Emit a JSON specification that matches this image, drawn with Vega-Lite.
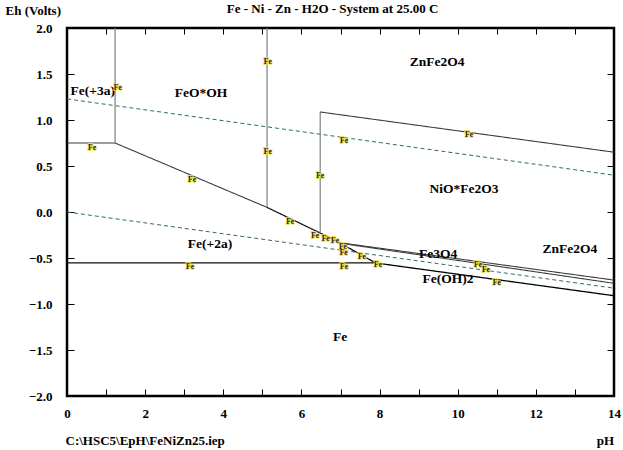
{
  "$schema": "https://vega.github.io/schema/vega-lite/v6.json",
  "width": 547,
  "height": 368,
  "autosize": "none",
  "padding": {"left": 67, "top": 28, "right": 9, "bottom": 54},
  "background": "white",
  "config": {
    "view": {"stroke": "black", "strokeWidth": 2.5},
    "font": "Liberation Serif",
    "axis": {"labelFont": "Liberation Serif", "labelFontWeight": "bold", "labelFontSize": 13, "labelColor": "black", "titleFont": "Liberation Serif", "titleFontWeight": "bold", "titleFontSize": 13, "titleColor": "black", "domain": false, "grid": false, "tickColor": "black", "tickWidth": 1}
  },
  "title": {"text": "Fe - Ni - Zn - H2O - System at 25.00 C", "font": "Liberation Serif", "fontWeight": "bold", "fontSize": 13, "anchor": "middle", "offset": -12, "dx": -8, "color": "black"},
  "datasets": {
    "lines": [
      {"seg": "w1", "style": "water", "ord": 1, "pH": 0, "Eh": 1.229},
      {"seg": "w1", "style": "water", "ord": 2, "pH": 14, "Eh": 0.40},
      {"seg": "w2", "style": "water", "ord": 1, "pH": 0, "Eh": 0.0},
      {"seg": "w2", "style": "water", "ord": 2, "pH": 14, "Eh": -0.828},
      {"seg": "A", "style": "dark", "ord": 1, "pH": 0, "Eh": 0.75},
      {"seg": "A", "style": "dark", "ord": 2, "pH": 1.23, "Eh": 0.75},
      {"seg": "B", "style": "gray", "ord": 1, "pH": 1.23, "Eh": 0.75},
      {"seg": "B", "style": "gray", "ord": 2, "pH": 1.23, "Eh": 2.0},
      {"seg": "C", "style": "dark", "ord": 1, "pH": 1.23, "Eh": 0.75},
      {"seg": "C", "style": "dark", "ord": 2, "pH": 5.12, "Eh": 0.05},
      {"seg": "D", "style": "gray", "ord": 1, "pH": 5.12, "Eh": 0.05},
      {"seg": "D", "style": "gray", "ord": 2, "pH": 5.12, "Eh": 2.0},
      {"seg": "E", "style": "black", "ord": 1, "pH": 5.12, "Eh": 0.05},
      {"seg": "E", "style": "black", "ord": 2, "pH": 7.0, "Eh": -0.335},
      {"seg": "F", "style": "gray", "ord": 1, "pH": 6.48, "Eh": -0.226},
      {"seg": "F", "style": "gray", "ord": 2, "pH": 6.48, "Eh": 1.087},
      {"seg": "G", "style": "dark", "ord": 1, "pH": 6.48, "Eh": 1.087},
      {"seg": "G", "style": "dark", "ord": 2, "pH": 14, "Eh": 0.65},
      {"seg": "I1", "style": "dark", "ord": 1, "pH": 7.0, "Eh": -0.335},
      {"seg": "I1", "style": "dark", "ord": 2, "pH": 14, "Eh": -0.74},
      {"seg": "I2", "style": "dark", "ord": 1, "pH": 7.0, "Eh": -0.34},
      {"seg": "I2", "style": "dark", "ord": 2, "pH": 14, "Eh": -0.775},
      {"seg": "J", "style": "black", "ord": 1, "pH": 7.0, "Eh": -0.34},
      {"seg": "J", "style": "black", "ord": 2, "pH": 7.9, "Eh": -0.554},
      {"seg": "K", "style": "black", "ord": 1, "pH": 0, "Eh": -0.554},
      {"seg": "K", "style": "black", "ord": 2, "pH": 7.9, "Eh": -0.554},
      {"seg": "L", "style": "thick", "ord": 1, "pH": 7.9, "Eh": -0.554},
      {"seg": "L", "style": "thick", "ord": 2, "pH": 14, "Eh": -0.91}
    ],
    "labels": [
      {"t": "Fe(+3a)", "pH": 0.66, "Eh": 1.31},
      {"t": "FeO*OH", "pH": 3.43, "Eh": 1.29},
      {"t": "ZnFe2O4", "pH": 9.47, "Eh": 1.63},
      {"t": "NiO*Fe2O3", "pH": 10.16, "Eh": 0.25},
      {"t": "Fe(+2a)", "pH": 3.66, "Eh": -0.35},
      {"t": "Fe3O4", "pH": 9.5, "Eh": -0.46},
      {"t": "ZnFe2O4", "pH": 12.87, "Eh": -0.40},
      {"t": "Fe(OH)2", "pH": 9.75, "Eh": -0.73},
      {"t": "Fe", "pH": 6.99, "Eh": -1.36}
    ],
    "small": [
      {"pH": 1.3, "Eh": 1.35},
      {"pH": 0.64, "Eh": 0.70},
      {"pH": 5.14, "Eh": 1.63},
      {"pH": 5.14, "Eh": 0.65},
      {"pH": 6.48, "Eh": 0.39},
      {"pH": 7.09, "Eh": 0.77},
      {"pH": 10.29, "Eh": 0.84},
      {"pH": 3.2, "Eh": 0.35},
      {"pH": 5.71, "Eh": -0.11},
      {"pH": 6.35, "Eh": -0.26},
      {"pH": 6.62, "Eh": -0.29},
      {"pH": 6.86, "Eh": -0.32},
      {"pH": 7.06, "Eh": -0.375},
      {"pH": 7.08, "Eh": -0.445},
      {"pH": 7.55, "Eh": -0.49},
      {"pH": 7.96, "Eh": -0.58},
      {"pH": 7.09, "Eh": -0.60},
      {"pH": 3.15, "Eh": -0.60},
      {"pH": 10.52, "Eh": -0.58},
      {"pH": 10.72, "Eh": -0.635},
      {"pH": 11.0, "Eh": -0.77}
    ]
  },
  "resolve": {"axis": {"x": "independent", "y": "independent"}},
  "layer": [
    {
      "data": {"name": "lines"},
      "mark": {"type": "line", "clip": true},
      "encoding": {
        "x": {"field": "pH", "type": "quantitative", "scale": {"domain": [0, 14], "nice": false, "zero": false},
          "axis": {"orient": "bottom", "values": [0,1,2,3,4,5,6,7,8,9,10,11,12,13,14], "labelExpr": "datum.value % 2 == 0 ? datum.label : ''", "tickSize": -7, "labelPadding": 18, "labelFlush": false, "title": "pH", "titleX": 538, "titleY": 44, "titleAlign": "center", "titleBaseline": "middle"}},
        "y": {"field": "Eh", "type": "quantitative", "scale": {"domain": [-2, 2], "nice": false, "zero": false},
          "axis": {"orient": "left", "values": [-2,-1.5,-1,-0.5,0,0.5,1,1.5,2], "format": ".1f", "tickSize": -7, "labelPadding": 22, "labelFlush": false, "title": "Eh (Volts)", "titleAngle": 0, "titleX": -62, "titleY": -18, "titleAlign": "left", "titleBaseline": "middle"}},
        "detail": {"field": "seg"},
        "order": {"field": "ord"},
        "color": {"field": "style", "type": "nominal", "legend": null, "scale": {"domain": ["water", "dark", "gray", "black", "thick"], "range": ["#2f6a6a", "#3a3a3a", "#7a7a7a", "#111111", "#000000"]}},
        "strokeWidth": {"field": "style", "type": "nominal", "legend": null, "scale": {"domain": ["water", "dark", "gray", "black", "thick"], "range": [1, 1.3, 1.6, 1.3, 2.3]}},
        "strokeDash": {"field": "style", "type": "nominal", "legend": null, "scale": {"domain": ["water", "dark", "gray", "black", "thick"], "range": [[4, 3], [1, 0], [1, 0], [1, 0], [1, 0]]}}
      }
    },
    {
      "data": {"name": "labels"},
      "mark": {"type": "text", "font": "Liberation Serif", "fontWeight": "bold", "fontSize": 13.5, "color": "black"},
      "encoding": {
        "x": {"field": "pH", "type": "quantitative",
          "axis": {"orient": "top", "values": [0,1,2,3,4,5,6,7,8,9,10,11,12,13,14], "labels": false, "tickSize": -6, "minExtent": 0, "maxExtent": 0, "title": "C:\\HSC5\\EpH\\FeNiZn25.iep", "titleX": -2, "titleY": 412, "titleAlign": "left", "titleBaseline": "middle"}},
        "y": {"field": "Eh", "type": "quantitative",
          "axis": {"orient": "right", "values": [-2,-1.5,-1,-0.5,0,0.5,1,1.5,2], "labels": false, "tickSize": -7, "title": null}},
        "text": {"field": "t"}
      }
    },
    {
      "data": {"name": "small"},
      "mark": {"type": "text", "text": "Fe", "font": "Liberation Serif", "fontWeight": "bold", "fontSize": 7.5, "fill": "#f0e040", "stroke": "#f0e040", "strokeWidth": 1.5},
      "encoding": {
        "x": {"field": "pH", "type": "quantitative", "axis": null},
        "y": {"field": "Eh", "type": "quantitative", "axis": null}
      }
    },
    {
      "data": {"name": "small"},
      "mark": {"type": "text", "text": "Fe", "font": "Liberation Serif", "fontWeight": "bold", "fontSize": 7.5, "fill": "#1a1a40"},
      "encoding": {
        "x": {"field": "pH", "type": "quantitative", "axis": null},
        "y": {"field": "Eh", "type": "quantitative", "axis": null}
      }
    }
  ]
}
